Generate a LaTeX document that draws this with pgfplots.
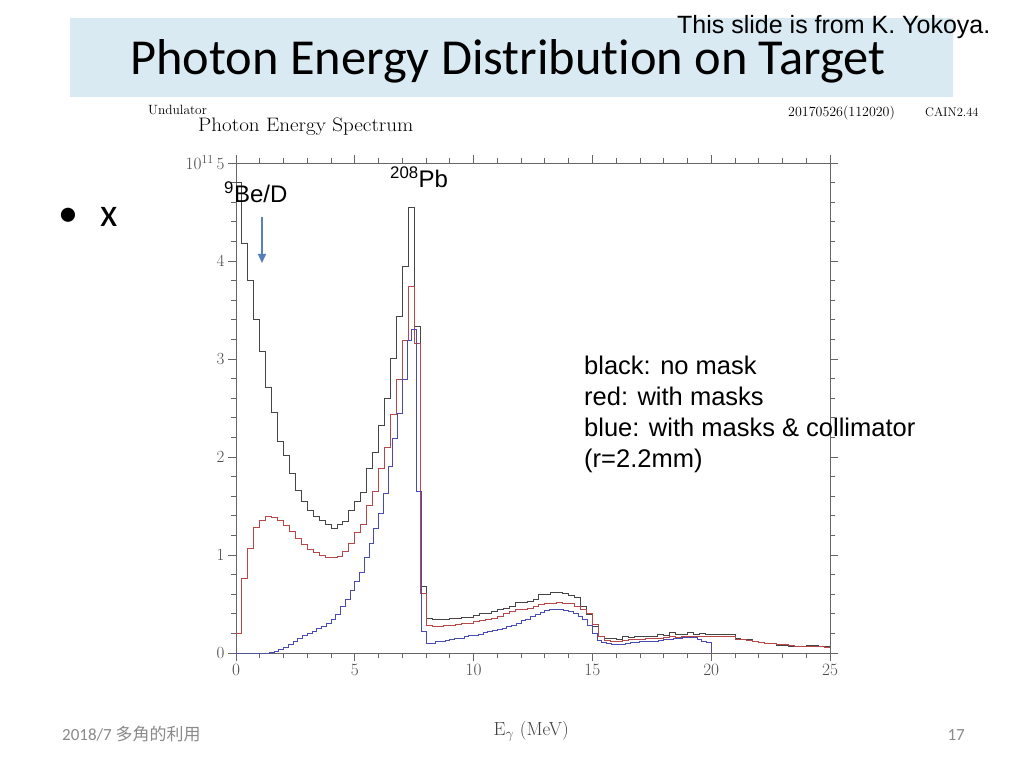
\documentclass[border=0pt]{standalone}
\usepackage{pgfplots}
\pgfplotsset{compat=1.18}
\usepackage{pgfplotstable}
\usepackage{graphicx}
\usepackage{fontspec}
\usetikzlibrary{arrows.meta}
\newfontfamily\arial{Liberation Sans}
\newfontfamily\calibri[Ligatures={NoCommon,NoRare}]{Carlito}
\newfontfamily\cjk{Noto Sans CJK JP}
\definecolor{titlebg}{HTML}{DAEAF3}
\definecolor{blackline}{HTML}{454545}
\definecolor{redline}{HTML}{B8474A}
\definecolor{blueline}{HTML}{4A4AB5}
\definecolor{arrowblue}{HTML}{5580BB}
\definecolor{footgray}{HTML}{8A8A8A}

\pgfplotstableread{
x y
0 4.80
0.25 4.18
0.5 3.80
0.75 3.40
1 3.08
1.25 2.71
1.5 2.45
1.75 2.16
2 2.02
2.25 1.83
2.5 1.66
2.75 1.55
3 1.45
3.25 1.39
3.5 1.35
3.75 1.31
4 1.27
4.25 1.31
4.5 1.34
4.75 1.45
5 1.55
5.25 1.64
5.5 1.88
5.75 2.05
6 2.32
6.25 2.60
6.5 3.01
6.75 3.43
7 3.94
7.25 4.55
7.5 3.33
7.75 0.68
8 0.35
8.25 0.34
8.5 0.34
8.75 0.34
9 0.35
9.25 0.35
9.5 0.36
9.75 0.36
10 0.38
10.25 0.40
10.5 0.40
10.75 0.42
11 0.44
11.25 0.45
11.5 0.48
11.75 0.52
12 0.52
12.25 0.53
12.5 0.55
12.75 0.60
13 0.60
13.25 0.62
13.5 0.62
13.75 0.61
14 0.59
14.25 0.57
14.5 0.47
14.75 0.39
15 0.27
15.25 0.17
15.5 0.15
15.75 0.15
16 0.14
16.25 0.17
16.5 0.16
16.75 0.17
17 0.17
17.25 0.17
17.5 0.17
17.75 0.19
18 0.18
18.25 0.21
18.5 0.19
18.75 0.19
19 0.21
19.25 0.19
19.5 0.20
19.75 0.19
20 0.19
20.25 0.19
20.5 0.19
20.75 0.19
21 0.15
21.25 0.14
21.5 0.14
21.75 0.12
22 0.11
22.25 0.10
22.5 0.10
22.75 0.08
23 0.08
23.25 0.07
23.5 0.07
23.75 0.07
24 0.08
24.25 0.08
24.5 0.07
24.75 0.07
25 0.07
}\blackdata

\pgfplotstableread{
x y
0 0.20
0.25 0.76
0.5 1.07
0.75 1.28
1 1.35
1.25 1.39
1.5 1.38
1.75 1.35
2 1.30
2.25 1.24
2.5 1.17
2.75 1.11
3 1.06
3.25 1.03
3.5 1.00
3.75 0.98
4 0.97
4.25 0.99
4.5 1.04
4.75 1.12
5 1.23
5.25 1.31
5.5 1.51
5.75 1.65
6 1.88
6.25 2.10
6.5 2.43
6.75 2.79
7 3.19
7.25 3.74
7.5 3.16
7.75 0.61
8 0.28
8.25 0.27
8.5 0.27
8.75 0.28
9 0.28
9.25 0.29
9.5 0.30
9.75 0.30
10 0.32
10.25 0.33
10.5 0.34
10.75 0.35
11 0.37
11.25 0.40
11.5 0.42
11.75 0.44
12 0.44
12.25 0.45
12.5 0.47
12.75 0.50
13 0.51
13.25 0.51
13.5 0.52
13.75 0.51
14 0.51
14.25 0.48
14.5 0.44
14.75 0.40
15 0.29
15.25 0.17
15.5 0.13
15.75 0.12
16 0.12
16.25 0.13
16.5 0.14
16.75 0.14
17 0.14
17.25 0.15
17.5 0.15
17.75 0.15
18 0.16
18.25 0.17
18.5 0.16
18.75 0.17
19 0.17
19.25 0.17
19.5 0.17
19.75 0.17
20 0.17
20.25 0.17
20.5 0.17
20.75 0.17
21 0.14
21.25 0.14
21.5 0.13
21.75 0.12
22 0.11
22.25 0.10
22.5 0.10
22.75 0.09
23 0.09
23.25 0.08
23.5 0.07
23.75 0.07
24 0.07
24.25 0.07
24.5 0.07
24.75 0.06
25 0.06
}\reddata

\pgfplotstableread{
x y
0 0
0.2 0
0.4 0
0.6 0
0.8 0
1.0 0
1.2 0
1.4 0.01
1.6 0.02
1.8 0.04
2.0 0.06
2.2 0.09
2.4 0.12
2.6 0.15
2.8 0.18
3.0 0.20
3.2 0.22
3.4 0.25
3.6 0.27
3.8 0.30
4.0 0.34
4.2 0.39
4.4 0.47
4.6 0.55
4.8 0.64
5.0 0.73
5.2 0.82
5.4 0.97
5.6 1.12
5.8 1.27
6.0 1.42
6.2 1.63
6.4 1.90
6.6 2.19
6.8 2.44
7.0 2.79
7.2 3.19
7.4 3.30
7.6 1.65
7.8 0.22
8.0 0.10
8.2 0.10
8.4 0.115
8.6 0.12
8.8 0.13
9.0 0.14
9.2 0.15
9.4 0.15
9.6 0.17
9.8 0.18
10.0 0.18
10.2 0.19
10.4 0.21
10.6 0.22
10.8 0.23
11.0 0.24
11.2 0.25
11.4 0.27
11.6 0.28
11.8 0.30
12.0 0.33
12.2 0.34
12.4 0.37
12.6 0.39
12.8 0.41
13.0 0.43
13.2 0.44
13.4 0.44
13.6 0.44
13.8 0.43
14.0 0.42
14.2 0.40
14.4 0.37
14.6 0.34
14.8 0.28
15.0 0.20
15.2 0.13
15.4 0.11
15.6 0.10
15.8 0.09
16.0 0.09
16.2 0.09
16.4 0.10
16.6 0.11
16.8 0.11
17.0 0.12
17.2 0.12
17.4 0.12
17.6 0.12
17.8 0.13
18.0 0.14
18.2 0.14
18.4 0.15
18.6 0.15
18.8 0.16
19.0 0.16
19.2 0.16
19.4 0.14
19.6 0.12
19.8 0.11
20.0 0
}\bluedata

\begin{document}
\begin{tikzpicture}
\fill[white] (0pt,0pt) rectangle (1024pt,768pt);
\useasboundingbox (0pt,0pt) rectangle (1024pt,768pt);
% title box
\fill[titlebg] (70pt,750pt) rectangle (953pt,671pt);
\node[anchor=base west, inner sep=0pt] at (130pt,693pt) {\calibri\fontsize{50.4}{60}\selectfont Photon Energy Distribution on Target};
\node[anchor=base west, inner sep=0pt] at (677pt,734.5pt) {\arial\fontsize{25}{30}\selectfont This slide is from K. Yokoya.};
% bullet
\node[anchor=base west, inner sep=0pt] at (58pt,541pt) {\calibri\fontsize{40}{40}\selectfont •};
\node[anchor=base west, inner sep=0pt] at (100pt,541pt) {\calibri\fontsize{40}{40}\selectfont x};
% CAIN header texts
\node[anchor=base west, inner sep=0pt] at (148pt,653pt) {\fontsize{13.4}{14}\selectfont Undulator};
\node[anchor=base west, inner sep=0pt] at (198pt,636.5pt) {\scalebox{1.08}[1]{\fontsize{19.5}{20}\selectfont Photon Energy Spectrum}};
\node[anchor=base west, inner sep=0pt] at (788pt,651.5pt) {\fontsize{14}{14}\selectfont 20170526(112020)};
\node[anchor=base west, inner sep=0pt] at (925pt,651.5pt) {\fontsize{12.5}{14}\selectfont CAIN2.44};
% footer
\node[anchor=base west, inner sep=0pt, text=footgray] at (62pt,28pt) {\calibri\fontsize{17}{17}\selectfont 2018/7 {\cjk 多角的利用}};
\node[anchor=base east, inner sep=0pt, text=footgray] at (965pt,28pt) {\calibri\fontsize{17}{17}\selectfont 17};

\begin{axis}[
  at={(236pt,115pt)}, anchor=south west,
  scale only axis, width=594pt, height=490pt,
  xmin=0, xmax=25, ymin=0, ymax=5,
  xtick={0,5,...,25}, ytick={0,1,...,5},
  yticklabels={0,1,2,3,4,{$10^{11}$\,5}},
  minor x tick num=4, minor y tick num=4,
  tick align=outside,
  major tick length=8pt, minor tick length=5pt,
  axis line style={draw=black!60, line width=0.8pt},
  every tick/.style={black!60, line width=0.8pt},
  tick label style={font=\fontsize{17}{17}\selectfont, text=black!70},
  xlabel={E$_{\gamma}$ (MeV)},
  xlabel style={at={(axis description cs:0.497,-0.169)}, anchor=base, font=\fontsize{19}{19}\selectfont, text=black!75},
  clip=true,
]
\addplot[const plot, color=blackline, line width=0.9pt] table {\blackdata};
\addplot[const plot, color=redline, line width=0.9pt] table {\reddata};
\addplot[const plot, color=blueline, line width=0.9pt] table {\bluedata};
\end{axis}

% annotations
\node[anchor=base west, inner sep=0pt] at (224pt,565pt) {\arial\fontsize{24}{24}\selectfont\textsuperscript{9}Be/D};
\node[anchor=base west, inner sep=0pt] at (390pt,580pt) {\arial\fontsize{24}{24}\selectfont\textsuperscript{208}Pb};
\draw[-{Triangle[width=8pt,length=9pt]}, arrowblue, line width=1.5pt] (262pt,551pt) -- (262pt,505pt);
\node[anchor=base west, inner sep=0pt] at (584pt,393pt) {\arial\fontsize{25.5}{30}\selectfont black: no mask};
\node[anchor=base west, inner sep=0pt] at (584pt,362pt) {\arial\fontsize{25.5}{30}\selectfont red: with masks};
\node[anchor=base west, inner sep=0pt] at (584pt,331pt) {\arial\fontsize{25.5}{30}\selectfont blue: with masks \& collimator};
\node[anchor=base west, inner sep=0pt] at (584pt,300pt) {\arial\fontsize{25.5}{30}\selectfont (r=2.2mm)};
\end{tikzpicture}
\end{document}
